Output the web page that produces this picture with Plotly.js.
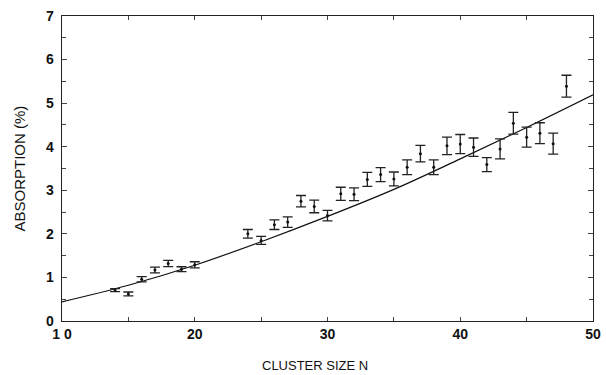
<!DOCTYPE html>
<html><head><meta charset="utf-8">
<script src="https://cdn.plot.ly/plotly-3.0.1.min.js"></script>
<style>body{margin:0;background:#fff}#c{width:606px;height:375px}</style>
</head><body><div id="c"></div>
<script>
const clusterN = [14,15,16,17,18,19,20,24,25,26,27,28,29,30,31,32,33,34,35,36,37,38,39,40,41,42,43,44,45,46,47,48];
const absorption = [0.71,0.62,0.96,1.17,1.32,1.19,1.29,2.00,1.85,2.21,2.27,2.75,2.63,2.42,2.92,2.91,3.25,3.36,3.26,3.53,3.84,3.53,4.02,4.06,3.99,3.59,3.95,4.54,4.22,4.31,4.07,5.39];
const errors = [0.035,0.045,0.06,0.065,0.07,0.055,0.07,0.10,0.09,0.11,0.12,0.13,0.145,0.12,0.15,0.145,0.16,0.16,0.16,0.17,0.19,0.17,0.20,0.22,0.21,0.16,0.23,0.25,0.23,0.24,0.24,0.25];
const fitN = [10,15,20,25,30,35,40,45,50];
const fitAbs = [0.44,0.82,1.28,1.82,2.40,3.02,3.72,4.44,5.19];
const xTicks = [10,20,30,40,50];
const xTickText = ['1 0','20','30','40','50'];
const yTicks = [0,1,2,3,4,5,6,7];
const xTitle = 'CLUSTER SIZE N';
const yTitle = 'ABSORPTION (%)';

const fam = 'Liberation Sans, Arial, sans-serif';
Plotly.newPlot('c', [
  {x:fitN, y:fitAbs, mode:'lines', line:{color:'#111', width:1.2, shape:'spline'}, hoverinfo:'skip'},
  {x:clusterN, y:absorption, mode:'markers', marker:{color:'#111', size:3},
   error_y:{type:'data', array:errors, visible:true, color:'#222', thickness:1.3, width:5}}
], {
  width:606, height:375, showlegend:false,
  margin:{l:62, r:13, t:16, b:54},
  paper_bgcolor:'#fff', plot_bgcolor:'#fff',
  font:{family:fam, color:'#111'},
  xaxis:{range:[10,50], tickvals:xTicks, ticktext:xTickText, ticks:'inside', ticklen:4, tickwidth:1,
    minor:{dtick:5, tick0:10, ticks:'inside', ticklen:4}, showgrid:false, zeroline:false,
    showline:true, mirror:'ticks', linecolor:'#222', linewidth:1.3,
    tickfont:{size:14, family:fam, weight:'bold', color:'#111'}},
  yaxis:{range:[0,7], tickvals:yTicks, ticks:'inside', ticklen:5, tickwidth:1,
    minor:{dtick:0.5, ticks:'inside', ticklen:4}, showgrid:false, zeroline:false,
    showline:true, mirror:'ticks', linecolor:'#222', linewidth:1.3,
    tickfont:{size:14, family:fam, weight:'bold', color:'#111'},
    ticklabelstandoff:4},
  annotations:[
    {text:xTitle, xref:'paper', yref:'paper', x:0.4765, y:0, xanchor:'center', yanchor:'middle', yshift:-44,
     showarrow:false, font:{size:13, family:fam, color:'#111'}},
    {text:yTitle, xref:'paper', yref:'paper', x:0, y:0.5, xanchor:'center', yanchor:'middle', xshift:-43,
     textangle:-90, showarrow:false, font:{size:15, family:fam, color:'#111'}}
  ]
}, {staticPlot:true});
</script></body></html>
